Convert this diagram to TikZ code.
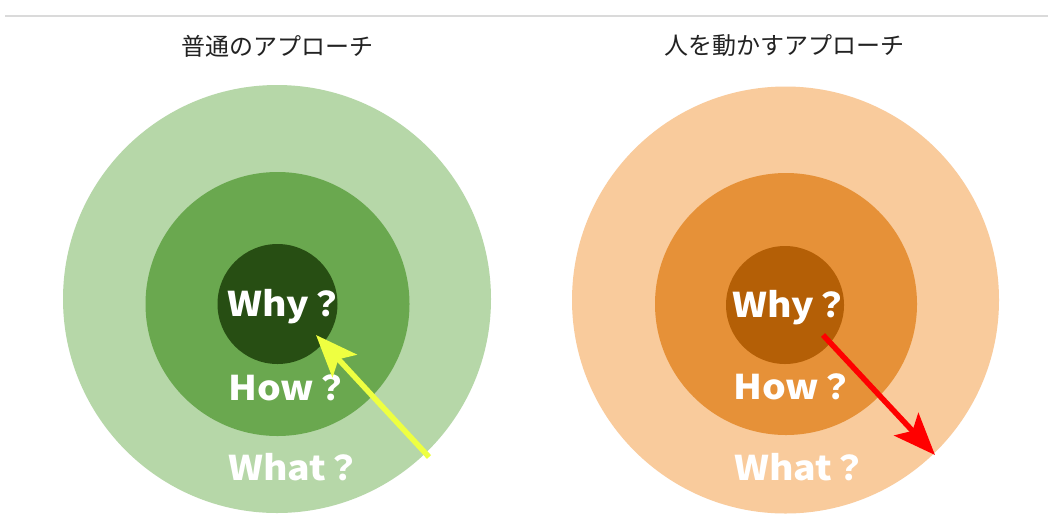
\documentclass[tikz,border=0pt]{standalone}
\usepackage{fontspec}
\newfontfamily\jpfont{Noto Sans CJK JP}
\newfontfamily\wordfont[FakeStretch=1.1]{Noto Sans CJK JP}
\newcommand\jpq{{\jpfont\bfseries ？}}
\usetikzlibrary{arrows.meta}
\definecolor{gOut}{HTML}{B6D7A8}
\definecolor{gMid}{HTML}{6AA84F}
\definecolor{gIn}{HTML}{274E13}
\definecolor{oOut}{HTML}{F9CB9C}
\definecolor{oMid}{HTML}{E69138}
\definecolor{oIn}{HTML}{B45F06}
\definecolor{yArrow}{HTML}{EEFF41}
\definecolor{rArrow}{HTML}{FF0000}
\definecolor{rule}{HTML}{DADADA}
\definecolor{titlec}{HTML}{222222}
\tikzset{
  ring/.style={circle, inner sep=0pt, draw=none, minimum size=#1},
  word/.style={anchor=base west, inner sep=0pt, text=white, font=\wordfont\bfseries\fontsize{34}{34}\selectfont},
  title/.style={inner sep=0pt, text=titlec, font=\jpfont\fontsize{24}{24}\selectfont},
  bigarrow/.style={line width=5.5pt, -{Stealth[length=42pt, width=33pt, inset=9pt]}},
}
\begin{document}
\begin{tikzpicture}[x=1pt, y=-1pt]
\useasboundingbox (0,0) rectangle (1048,515);
\fill[white] (0,0) rectangle (1048,515);
\coordinate (ruleL) at (5,16);
\coordinate (ruleR) at (1048,16);
\draw[rule, line width=1.5pt] (ruleL) -- (ruleR);

% titles
\node[title] (t1) at (277,46) {普通のアプローチ};
\node[title] (t2) at (784,46) {人を動かすアプローチ};

% green rings
\node[ring=428pt, fill=gOut] (gO) at (277,299) {};
\node[ring=264pt, fill=gMid] (gM) at (277.5,304) {};
\node[ring=120pt, fill=gIn] (gI) at (277.5,304) {};

% orange rings
\node[ring=427pt, fill=oOut] (oO) at (785.5,300) {};
\node[ring=262pt, fill=oMid] (oM) at (786,304) {};
\node[ring=118pt, fill=oIn] (oI) at (785,305) {};

% texts
\node[word] (gWhy) at (227,316) {Why\jpq};
\node[word] (gHow) at (228,400) {How\jpq};
\node[word] (gWhat) at (228,480) {What\jpq};
\node[word] (oWhy) at (732,317) {Why\jpq};
\node[word] (oHow) at (733,399) {How\jpq};
\node[word] (oWhat) at (734,480) {What\jpq};

% arrows
\coordinate (gTail) at (429,457);
\coordinate (gTip) at (316,335);
\draw[bigarrow, yArrow] (gTail) -- (gTip);
\coordinate (oTail) at (823,335);
\coordinate (oTip) at (935,455);
\draw[bigarrow, rArrow] (oTail) -- (oTip);
\end{tikzpicture}
\end{document}
